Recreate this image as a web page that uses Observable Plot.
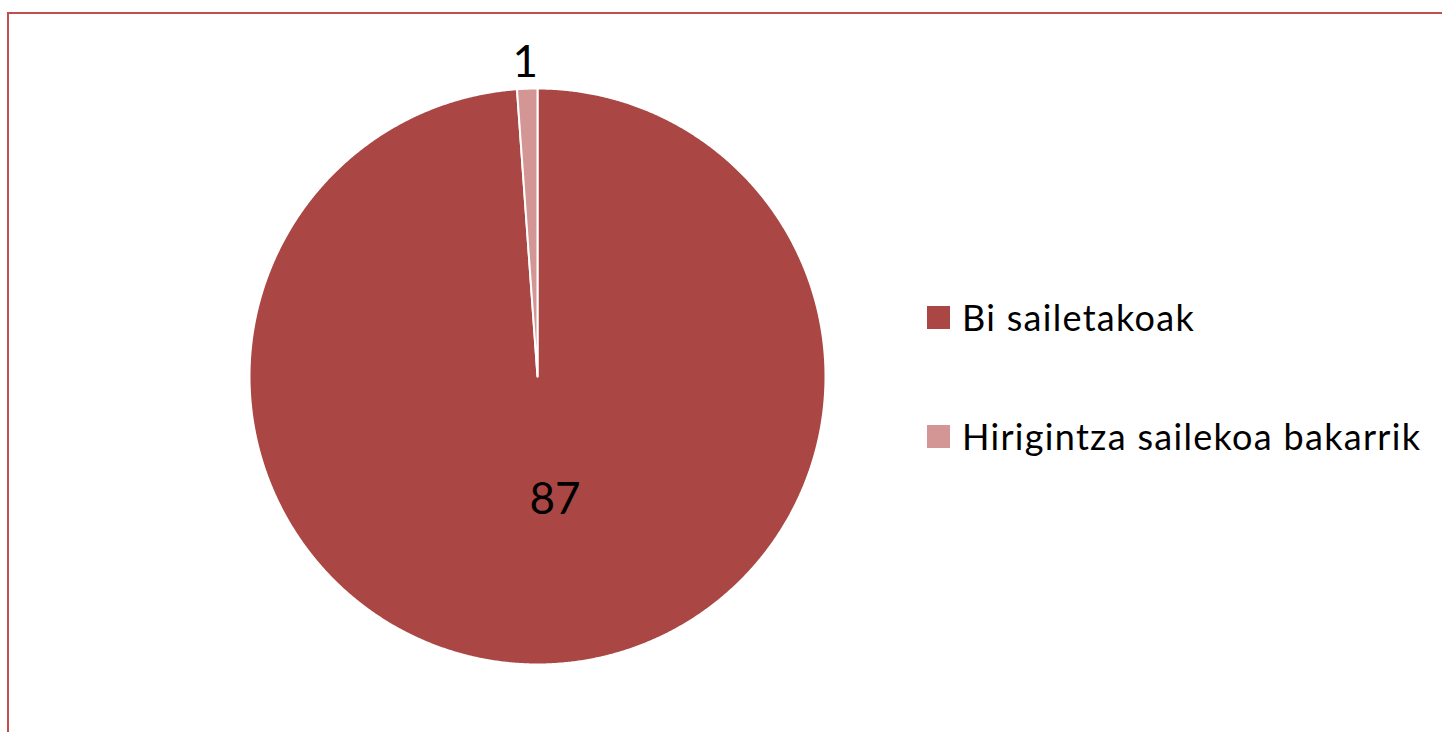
<!DOCTYPE html>
<html><head><meta charset="utf-8">
<script src="https://cdn.jsdelivr.net/npm/d3@7"></script>
<script src="https://cdn.jsdelivr.net/npm/@observablehq/plot@0.6"></script>
<style>
html,body{margin:0;padding:0;background:#fff;overflow:hidden;}
#wrap{position:relative;width:1442px;height:732px;font-family:Lato,"Open Sans",sans-serif;}
#frame{position:absolute;left:7px;top:12px;width:1460px;height:740px;border-left:2px solid #C0504D;border-top:2px solid #C0504D;box-sizing:border-box;}
#chart{position:absolute;left:0;top:0;}
#legend{position:absolute;left:927px;top:299px;}
.item{display:flex;align-items:center;height:36px;margin-bottom:83px;white-space:nowrap;}
.sw{width:23px;height:23px;margin-right:12px;flex:none;}
.lab{font-size:36px;color:#000;line-height:36px;letter-spacing:1.3px;}
</style></head>
<body><div id="wrap"><div id="frame"></div><div id="chart"></div><div id="legend"></div></div>
<script>
const categories = ["Bi sailetakoak", "Hirigintza sailekoa bakarrik"];
const values = [87, 1];
const colors = ["#AA4644", "#D49694"];

const pie = d3.pie().sort(null).value(d => d.value)(categories.map((c, i) => ({category: c, value: values[i]})));

// polygon outline of each slice (angle clockwise from 12 o'clock, unit radius)
const poly = [];
for (const a of pie) {
  const cat = a.data.category;
  poly.push({category: cat, x: 0, y: 0});
  const n = Math.max(2, Math.ceil((a.endAngle - a.startAngle) / 0.005));
  for (let k = 0; k <= n; k++) {
    const t = a.startAngle + (a.endAngle - a.startAngle) * k / n;
    poly.push({category: cat, x: Math.sin(t), y: Math.cos(t)});
  }
  poly.push({category: cat, x: 0, y: 0});
}
const labelR = [0.43, 1.09];
const labels = pie.map((a, i) => {
  const m = (a.startAngle + a.endAngle) / 2;
  return {text: String(a.data.value), x: Math.sin(m) * labelR[i], y: Math.cos(m) * labelR[i], i};
});

const plot = Plot.plot({
  width: 1442, height: 732,
  margin: 0,
  x: {domain: [-1, 1], range: [249, 825], axis: null},
  y: {domain: [-1, 1], range: [664, 88], axis: null},
  color: {domain: categories, range: colors},
  style: {background: "transparent", overflow: "visible"},
  marks: [
    Plot.line(poly, {x: "x", y: "y", z: "category", fill: "category", stroke: "white", strokeWidth: 2, strokeLinejoin: "round"}),
    Plot.text(labels.filter(d => d.i === 0), {x: "x", y: "y", text: "text", fontSize: 44, fill: "black", fontFamily: "Lato, sans-serif", dx: 13}),
    Plot.text(labels.filter(d => d.i === 1), {x: "x", y: "y", text: "text", fontSize: 44, fill: "black", fontFamily: "Lato, sans-serif", dx: -1})
  ]
});
document.getElementById("chart").appendChild(plot);

const leg = d3.select("#legend");
categories.forEach((c, i) => {
  const it = leg.append("div").attr("class", "item");
  it.append("div").attr("class", "sw").style("background", colors[i]);
  it.append("div").attr("class", "lab").text(c);
});
</script></body></html>
